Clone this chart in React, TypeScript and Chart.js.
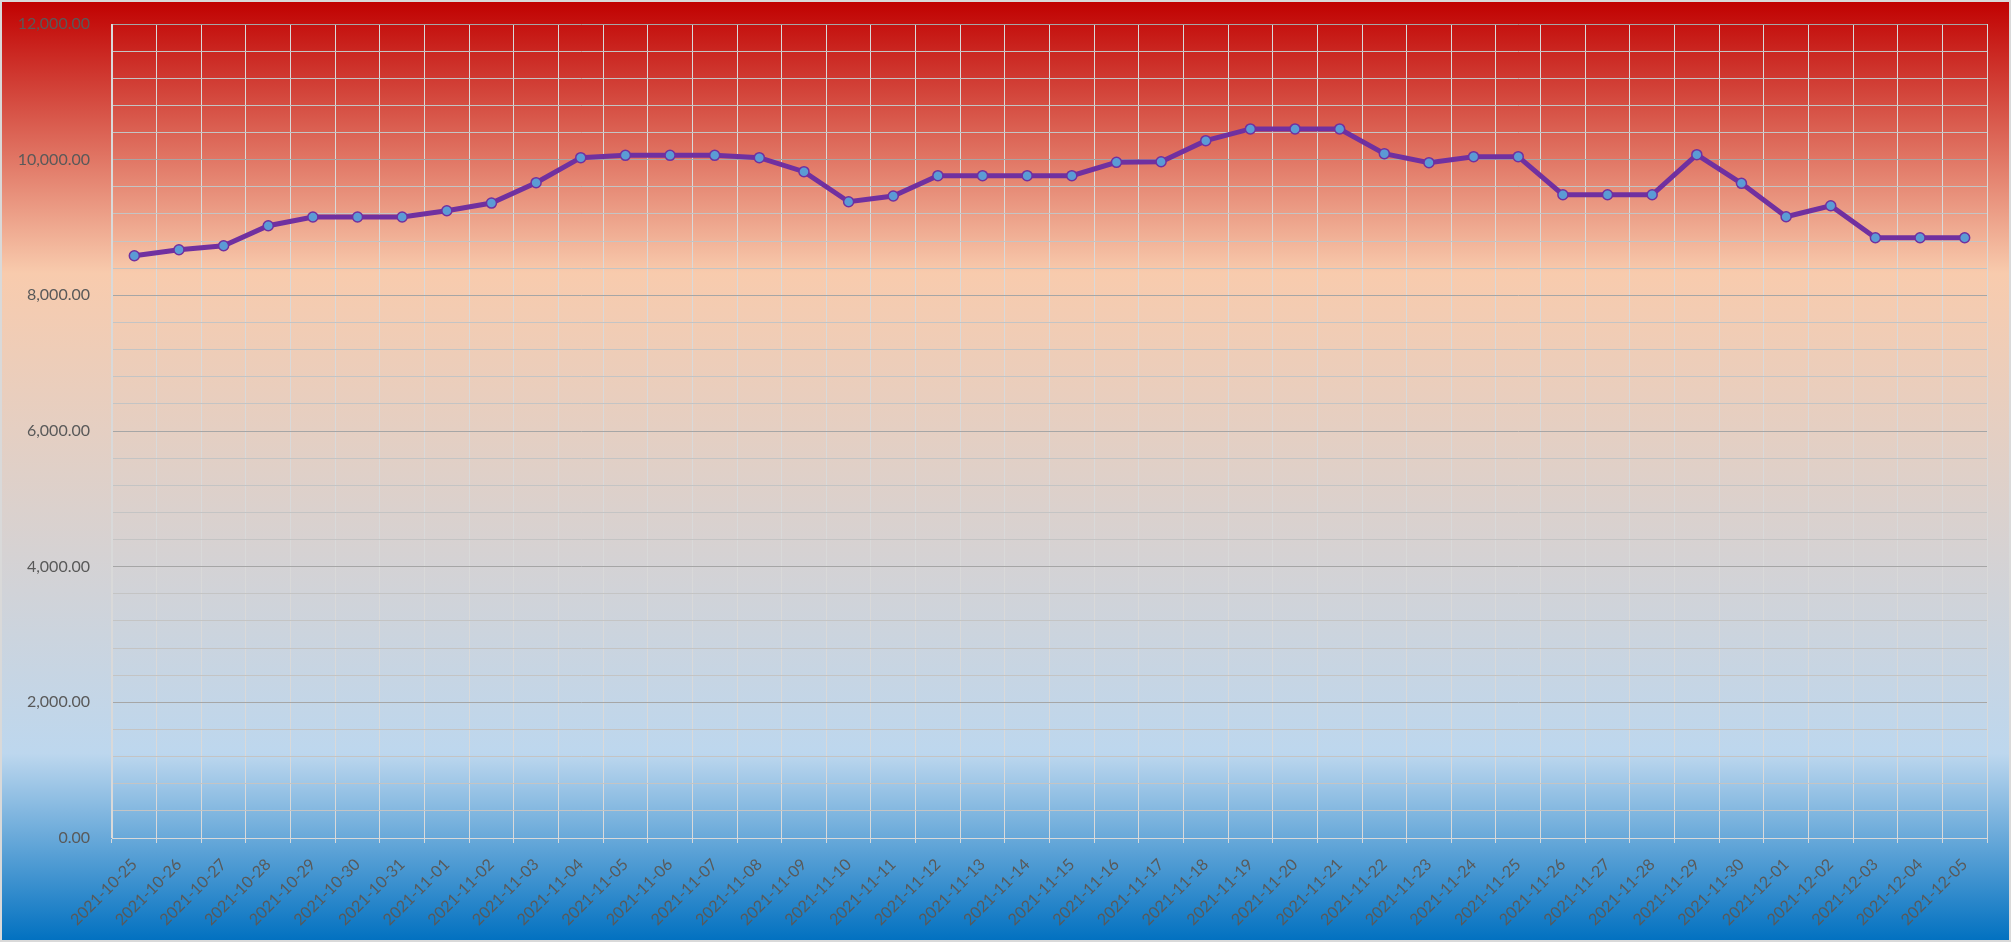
import React, { useEffect, useRef } from 'react';
import { Chart, registerables } from 'chart.js';

Chart.register(...registerables);

const categories: string[] = [
  '2021-10-25', '2021-10-26', '2021-10-27', '2021-10-28', '2021-10-29', '2021-10-30', '2021-10-31',
  '2021-11-01', '2021-11-02', '2021-11-03', '2021-11-04', '2021-11-05', '2021-11-06', '2021-11-07',
  '2021-11-08', '2021-11-09', '2021-11-10', '2021-11-11', '2021-11-12', '2021-11-13', '2021-11-14',
  '2021-11-15', '2021-11-16', '2021-11-17', '2021-11-18', '2021-11-19', '2021-11-20', '2021-11-21',
  '2021-11-22', '2021-11-23', '2021-11-24', '2021-11-25', '2021-11-26', '2021-11-27', '2021-11-28',
  '2021-11-29', '2021-11-30', '2021-12-01', '2021-12-02', '2021-12-03', '2021-12-04', '2021-12-05',
];

const values: number[] = [
  8583, 8672, 8731, 9026, 9154, 9154, 9154,
  9247, 9360, 9661, 10030, 10064, 10064, 10064,
  10030, 9823, 9380, 9464, 9764, 9764, 9764,
  9764, 9961, 9970, 10280, 10453, 10453, 10453,
  10089, 9956, 10044, 10044, 9483, 9483, 9483,
  10074, 9651, 9159, 9321, 8849, 8849, 8849,
];

const yMin = 0;
const yMax = 12000;
const yMinorStep = 400;
const yMajorStep = 2000;

const W = 2011;
const H = 942;

const backgroundPlugin = {
  id: 'excelBackground',
  beforeDraw(chart: any) {
    const ctx = chart.ctx as CanvasRenderingContext2D;
    const g = ctx.createLinearGradient(0, 0, 0, chart.height);
    g.addColorStop(0, '#C00000');
    g.addColorStop(0.29, '#F8CBAD');
    g.addColorStop(0.8, '#BDD7EE');
    g.addColorStop(1, '#0070C0');
    ctx.save();
    ctx.fillStyle = g;
    ctx.fillRect(0, 0, chart.width, chart.height);
    ctx.strokeStyle = '#D9D9D9';
    ctx.lineWidth = 2;
    ctx.strokeRect(1, 1, chart.width - 2, chart.height - 2);
    ctx.restore();
  },
};

export default function App() {
  const canvasRef = useRef<HTMLCanvasElement | null>(null);

  useEffect(() => {
    if (!canvasRef.current) return;
    const chart = new Chart(canvasRef.current, {
      type: 'line',
      data: {
        labels: categories,
        datasets: [
          {
            data: values,
            borderColor: '#7030A0',
            borderWidth: 5,
            pointRadius: 5,
            pointBorderWidth: 1.5,
            pointBackgroundColor: '#5B9BD5',
            pointBorderColor: '#7030A0',
            tension: 0,
          },
        ],
      },
      options: {
        responsive: false,
        animation: false,
        devicePixelRatio: 1,
        layout: { padding: { top: 24, right: 24, left: 0, bottom: 0 } },
        plugins: {
          legend: { display: false },
          tooltip: { enabled: false },
        },
        scales: {
          x: {
            offset: true,
            grid: {
              offset: true,
              color: '#D9D9D9',
              lineWidth: 1,
              tickLength: 5,
            },
            border: { color: '#D9D9D9', width: 1 },
            ticks: {
              autoSkip: false,
              minRotation: 45,
              maxRotation: 45,
              color: '#595959',
              padding: 12,
              font: { family: 'Lato', size: 16 },
            },
            afterFit(scale: any) {
              scale.height = 104;
            },
          },
          y: {
            min: yMin,
            max: yMax,
            grid: {
              drawTicks: true,
              tickLength: 22,
              tickColor: 'rgba(0,0,0,0)',
              lineWidth: 1,
              color: (ctx: any) =>
                ctx.tick && ctx.tick.value % yMajorStep === 0 ? '#A6A6A6' : '#C4C4C4',
            },
            border: { color: '#D9D9D9', width: 1 },
            ticks: {
              stepSize: yMinorStep,
              autoSkip: false,
              padding: 0,
              color: '#595959',
              font: { family: 'Lato', size: 16 },
              callback: (v: any) =>
                Number(v) % yMajorStep === 0
                  ? Number(v).toLocaleString('en-US', { minimumFractionDigits: 2, maximumFractionDigits: 2 })
                  : '',
            },
            afterFit(scale: any) {
              scale.width = 112;
            },
          },
        },
      },
      plugins: [backgroundPlugin],
    });
    return () => chart.destroy();
  }, []);

  return (
    <div style={{ position: 'fixed', left: 0, top: 0, width: W, height: H }}>
      <canvas ref={canvasRef} width={W} height={H} style={{ display: 'block', width: W, height: H }} />
    </div>
  );
}
